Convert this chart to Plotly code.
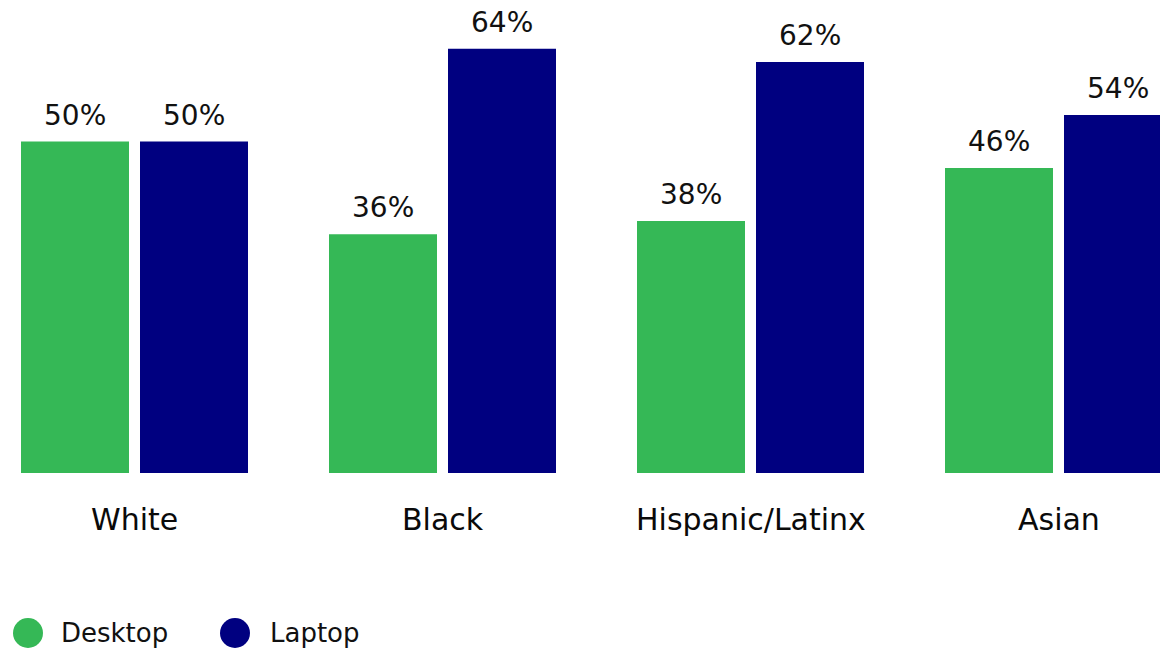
import plotly.graph_objects as go

categories = ["White", "Black", "Hispanic/Latinx", "Asian"]
desktop = [50, 36, 38, 46]
laptop = [50, 64, 62, 54]
series_names = ["Desktop", "Laptop"]
colors = ["#35b856", "#000080"]

W, H = 1160, 649
plot_bottom_px = 473
px_per_cat = 308.0
first_center_px = 134.5
bar_w = 108 / px_per_cat
off_d = -113.5 / px_per_cat
off_l = 5.5 / px_per_cat

xs = list(range(len(categories)))
FONT = "DejaVu Sans"

fig = go.Figure()
for name, vals, col, off in [(series_names[0], desktop, colors[0], off_d),
                             (series_names[1], laptop, colors[1], off_l)]:
    fig.add_trace(go.Bar(x=xs, y=vals, name=name, marker_color=col,
                         marker_line_width=0, width=[bar_w] * len(xs),
                         offset=off, showlegend=False, hoverinfo="skip"))

annotations = []
for vals, off in [(desktop, off_d), (laptop, off_l)]:
    for i, v in enumerate(vals):
        annotations.append(dict(x=i + off + bar_w / 2, y=v, xref="x", yref="y",
                                text=f"{v}%", showarrow=False, yanchor="bottom",
                                yshift=8, font=dict(family=FONT, size=28, color="#111111")))
for i, c in enumerate(categories):
    annotations.append(dict(x=i, y=0, xref="x", yref="paper", text=c, showarrow=False,
                            yanchor="middle", yshift=-46,
                            font=dict(family=FONT, size=30, color="#0a0a0a")))

# legend (circles + labels)
plot_h = plot_bottom_px
leg_y = (plot_bottom_px - 633) / plot_h
shapes = []
for name, col, cx, tx in [(series_names[0], colors[0], 28, 59), (series_names[1], colors[1], 235, 268)]:
    shapes.append(dict(type="circle", xref="paper", yref="paper", xsizemode="pixel",
                       ysizemode="pixel", xanchor=cx / W, yanchor=leg_y,
                       x0=-15, x1=15, y0=-15, y1=15, fillcolor=col, line_width=0))
    annotations.append(dict(x=tx / W, y=leg_y, xref="paper", yref="paper", text=name,
                            showarrow=False, xanchor="left", yanchor="middle",
                            font=dict(family=FONT, size=26, color="#111111")))

x0 = -first_center_px / px_per_cat
x1 = (W - first_center_px) / px_per_cat
ppu = 6.63
fig.update_layout(
    width=W, height=H, margin=dict(l=0, r=0, t=0, b=H - plot_bottom_px),
    paper_bgcolor="white", plot_bgcolor="white",
    xaxis=dict(range=[x0, x1], showgrid=False, zeroline=False, showticklabels=False,
               showline=False, ticks=""),
    yaxis=dict(range=[0, plot_bottom_px / ppu], showgrid=False, zeroline=False,
               showticklabels=False, showline=False, ticks=""),
    annotations=annotations, shapes=shapes, showlegend=False,
)
fig.write_html("out.html")
